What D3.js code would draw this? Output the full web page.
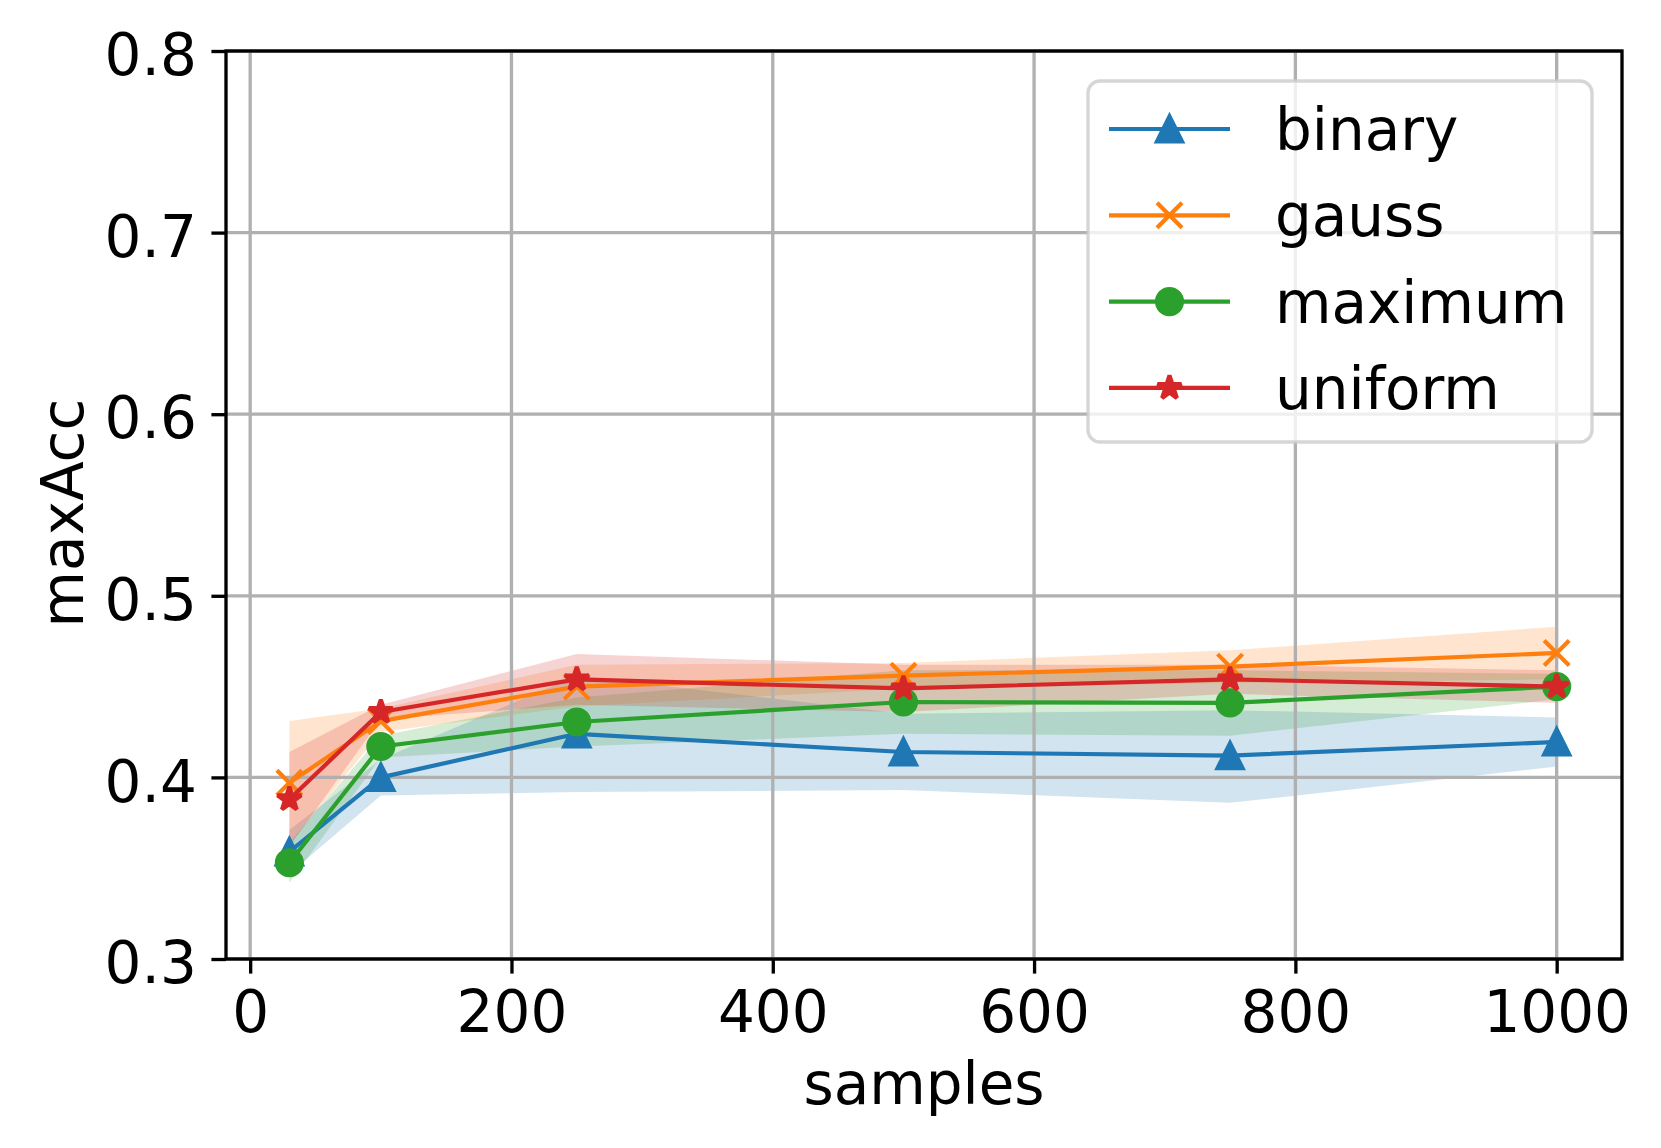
<!DOCTYPE html>
<html>
<head>
<meta charset="utf-8">
<script src="https://cdn.jsdelivr.net/npm/d3@7"></script>
<style>
  body { margin: 0; background: #fff; }
  svg { display: block; font-family: "DejaVu Sans", sans-serif; }
</style>
</head>
<body>
<div id="chart"></div>
<script>
/* Data. */
const samples = [30, 100, 250, 500, 750, 1000];

const binaryMean = [0.359, 0.400, 0.424, 0.414, 0.412, 0.4195];
const binaryLo   = [0.347, 0.390, 0.392, 0.393, 0.386, 0.406];
const binaryHi   = [0.371, 0.410, 0.456, 0.435, 0.437, 0.433];

const gaussMean = [0.397, 0.431, 0.450, 0.456, 0.461, 0.4685];
const gaussLo   = [0.363, 0.425, 0.439, 0.449, 0.452, 0.454];
const gaussHi   = [0.431, 0.438, 0.462, 0.463, 0.470, 0.483];

const maximumMean = [0.353, 0.417, 0.4305, 0.4415, 0.441, 0.450];
const maximumLo   = [0.342, 0.411, 0.417, 0.424, 0.423, 0.443];
const maximumHi   = [0.364, 0.423, 0.444, 0.459, 0.459, 0.457];

const uniformMean = [0.388, 0.436, 0.454, 0.449, 0.454, 0.450];
const uniformLo   = [0.362, 0.432, 0.440, 0.436, 0.446, 0.441];
const uniformHi   = [0.414, 0.440, 0.468, 0.462, 0.462, 0.459];

const xTicks = [0, 200, 400, 600, 800, 1000];
const yTicks = [0.3, 0.4, 0.5, 0.6, 0.7, 0.8];

const series = [
  { name: 'binary',  color: '#1f77b4', marker: 'triangle', mean: binaryMean,  lo: binaryLo,  hi: binaryHi },
  { name: 'gauss',   color: '#ff7f0e', marker: 'x',        mean: gaussMean,   lo: gaussLo,   hi: gaussHi },
  { name: 'maximum', color: '#2ca02c', marker: 'circle',   mean: maximumMean, lo: maximumLo, hi: maximumHi },
  { name: 'uniform', color: '#d62728', marker: 'star',     mean: uniformMean, lo: uniformLo, hi: uniformHi }
];

/* Plot box, in pixels (matplotlib at 300 dpi, 14pt text). */
const W = 1661, H = 1148;
const margin = { top: 51, right: 39, bottom: 189, left: 226 };
const width = W - margin.left - margin.right;
const height = H - margin.top - margin.bottom;
const fontSize = 58;
const lw = 4.17;      // 1pt lines
const thin = 3.33;    // 0.8pt spines / grid
const ms = 25;        // 6pt markers
const tickLen = 14.6;

const svg = d3.select('#chart').append('svg')
  .attr('width', W)
  .attr('height', H);
svg.append('rect').attr('width', W).attr('height', H).attr('fill', '#fff');

const x = d3.scaleLinear().domain([-18.5, 1050]).range([0, width]);
const y = d3.scaleLinear().domain([0.3, 0.8]).range([height, 0]);

const plot = svg.append('g')
  .attr('transform', `translate(${margin.left}, ${margin.top})`);

// clip so nothing spills past the axes box
plot.append('clipPath').attr('id', 'clip')
  .append('rect').attr('width', width).attr('height', height);

/* Bands first (zorder 1). */
const area = d3.area()
  .x((d, i) => x(samples[i]))
  .y0((d) => y(d[0]))
  .y1((d) => y(d[1]));

series.forEach((s) => {
  plot.append('path')
    .attr('clip-path', 'url(#clip)')
    .attr('d', area(s.lo.map((v, i) => [v, s.hi[i]])))
    .attr('fill', s.color)
    .attr('fill-opacity', 0.2);
});

/* Grid sits above the bands, below the lines. */
const grid = plot.append('g').attr('class', 'grid');
grid.selectAll('.gx').data(xTicks).enter().append('line')
  .attr('x1', (d) => x(d)).attr('x2', (d) => x(d))
  .attr('y1', 0).attr('y2', height)
  .attr('stroke', '#b0b0b0').attr('stroke-width', thin);
grid.selectAll('.gy').data(yTicks).enter().append('line')
  .attr('x1', 0).attr('x2', width)
  .attr('y1', (d) => y(d)).attr('y2', (d) => y(d))
  .attr('stroke', '#b0b0b0').attr('stroke-width', thin);

/* Marker shapes, matplotlib style. */
function markerPath(type) {
  const r = ms / 2;
  if (type === 'triangle') {
    return `M0,${-r}L${-r},${r}L${r},${r}Z`;
  }
  if (type === 'x') {
    return `M${-r},${-r}L${r},${r}M${-r},${r}L${r},${-r}`;
  }
  if (type === 'circle') {
    return `M${r},0A${r},${r} 0 1,1 ${-r},0A${r},${r} 0 1,1 ${r},0Z`;
  }
  // 5-point star, inner radius 0.381966
  const pts = [];
  for (let k = 0; k < 10; k++) {
    const rad = k % 2 === 0 ? r : r * 0.381966;
    const a = -Math.PI / 2 + k * Math.PI / 5;
    pts.push([rad * Math.cos(a), rad * Math.sin(a)]);
  }
  return 'M' + pts.map((p) => p[0].toFixed(2) + ',' + p[1].toFixed(2)).join('L') + 'Z';
}

function drawMarker(g, s, cx, cy) {
  const m = g.append('path')
    .attr('transform', `translate(${cx}, ${cy})`)
    .attr('d', markerPath(s.marker))
    .attr('stroke', s.color)
    .attr('stroke-width', lw);
  if (s.marker === 'x') {
    m.attr('fill', 'none').attr('stroke-linecap', 'butt');
  } else {
    m.attr('fill', s.color)
      .attr('stroke-linejoin', s.marker === 'triangle' ? 'miter' : (s.marker === 'star' ? 'bevel' : 'round'));
  }
}

/* Lines + markers, one series after another. */
const line = d3.line()
  .x((d, i) => x(samples[i]))
  .y((d) => y(d));

series.forEach((s) => {
  const g = plot.append('g').attr('class', 'series ' + s.name);
  g.append('path')
    .attr('d', line(s.mean))
    .attr('fill', 'none')
    .attr('stroke', s.color)
    .attr('stroke-width', lw)
    .attr('stroke-linejoin', 'round')
    .attr('stroke-linecap', 'square');
  s.mean.forEach((v, i) => drawMarker(g, s, x(samples[i]), y(v)));
});

/* Axes. */
const xAxis = d3.axisBottom(x).tickValues(xTicks).tickFormat(d3.format('d'))
  .tickSize(tickLen).tickSizeOuter(0).tickPadding(tickLen);
const yAxis = d3.axisLeft(y).tickValues(yTicks).tickFormat(d3.format('.1f'))
  .tickSize(tickLen).tickSizeOuter(0).tickPadding(tickLen);

const gX = plot.append('g')
  .attr('transform', `translate(0, ${height})`)
  .call(xAxis);
const gY = plot.append('g').call(yAxis);

[gX, gY].forEach((g) => {
  g.select('.domain').remove();
  g.selectAll('.tick line').attr('stroke', '#000').attr('stroke-width', thin);
  g.selectAll('.tick text')
    .attr('fill', '#000')
    .style('font-size', fontSize + 'px')
    .style('font-family', '"DejaVu Sans", sans-serif');
});
gX.selectAll('.tick text').attr('dy', '0.76em');
gY.selectAll('.tick text').attr('dy', '0.41em');

// spines
plot.append('rect')
  .attr('width', width).attr('height', height)
  .attr('fill', 'none').attr('stroke', '#000').attr('stroke-width', thin);

svg.append('text')
  .attr('x', margin.left + width / 2)
  .attr('y', 1104)
  .attr('text-anchor', 'middle')
  .style('font-size', fontSize + 'px')
  .text('samples');

svg.append('text')
  .attr('transform', `translate(83, ${margin.top + height / 2 + 8}) rotate(-90)`)
  .attr('text-anchor', 'middle')
  .style('font-size', fontSize + 'px')
  .text('maxAcc');

/* Legend, top right. */
const legend = svg.append('g').attr('class', 'legend');
legend.append('rect')
  .attr('x', 1088).attr('y', 81)
  .attr('width', 504).attr('height', 361)
  .attr('rx', 12).attr('ry', 12)
  .attr('fill', '#fff').attr('fill-opacity', 0.8)
  .attr('stroke', '#cccccc').attr('stroke-opacity', 0.8)
  .attr('stroke-width', thin);

series.forEach((s, i) => {
  const cy = 129 + i * 86.3;
  const row = legend.append('g');
  row.append('line')
    .attr('x1', 1109).attr('x2', 1230)
    .attr('y1', cy).attr('y2', cy)
    .attr('stroke', s.color).attr('stroke-width', lw);
  drawMarker(row, s, 1169.5, cy);
  row.append('text')
    .attr('x', 1275).attr('y', cy + 21)
    .style('font-size', fontSize + 'px')
    .text(s.name);
});
</script>
</body>
</html>
